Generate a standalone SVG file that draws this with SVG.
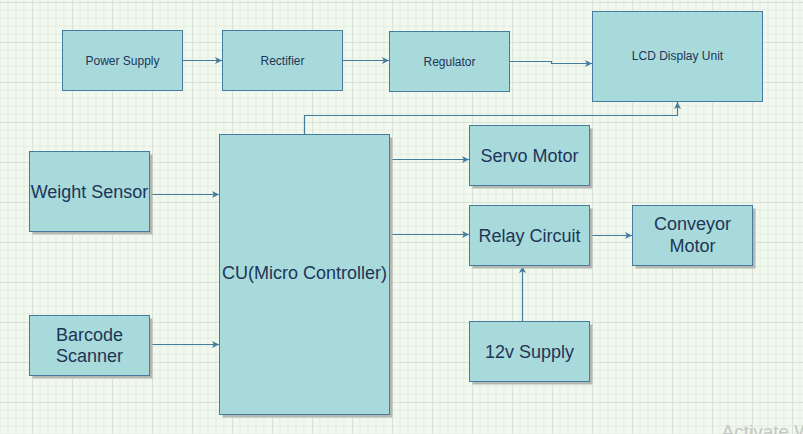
<svg xmlns="http://www.w3.org/2000/svg" width="803" height="434" viewBox="0 0 803 434">
<style>
.box{fill:#a8dadc;stroke:#457b9d;stroke-width:1}
.shadow{fill:#b4b8b1}
.t12{font-family:"Liberation Sans",Arial,sans-serif;font-size:12px;fill:#1d3557;text-anchor:middle}
.t18{font-family:"Liberation Sans",Arial,sans-serif;font-size:18px;fill:#1d3557;text-anchor:middle}
.edge{fill:none;stroke:#457b9d;stroke-width:1.2}
</style>
<defs>
<pattern id="grid" patternUnits="userSpaceOnUse" x="32" y="2" width="40" height="40">
<path d="M8,0V40M16,0V40M24,0V40M32,0V40M0,8H40M0,16H40M0,24H40M0,32H40" stroke="#e5ede1" stroke-width="1" fill="none"/>
<path d="M0.5,0V40M0,0.5H40" stroke="#d9e0d6" stroke-width="1" fill="none"/>
</pattern>
<marker id="arr" markerUnits="userSpaceOnUse" markerWidth="9" markerHeight="9" refX="7" refY="4" orient="auto">
<path d="M0,0.5 L7,4 L0,7.5 L1.8,4 z" fill="#457b9d"/>
</marker>
</defs>
<rect width="803" height="434" fill="#f1f8ee"/>
<rect width="803" height="434" fill="url(#grid)"/>

<g id="connectors">
<path class="edge" d="M182.5,60.5H222" marker-end="url(#arr)"/>
<path class="edge" d="M342.5,60.5H389" marker-end="url(#arr)"/>
<path class="edge" d="M509.5,61.5H551.5V63.5H592" marker-end="url(#arr)"/>
<path class="edge" d="M304.5,134.5V115.5H677.5V102" marker-end="url(#arr)"/>
<path class="edge" d="M149.5,194.5H219" marker-end="url(#arr)"/>
<path class="edge" d="M149.5,344.5H219" marker-end="url(#arr)"/>
<path class="edge" d="M389.5,159.5H469" marker-end="url(#arr)"/>
<path class="edge" d="M389.5,234.5H469" marker-end="url(#arr)"/>
<path class="edge" d="M589.5,235.5H632" marker-end="url(#arr)"/>
<path class="edge" d="M522.5,321.5V266" marker-end="url(#arr)"/>
</g>

<g id="power-supply">
<rect class="box" x="62.5" y="30.5" width="120" height="60"/>
<text class="t12" x="122.5" y="64.7">Power Supply</text>
</g>
<g id="rectifier">
<rect class="box" x="222.5" y="30.5" width="120" height="60"/>
<text class="t12" x="282.5" y="64.7">Rectifier</text>
</g>
<g id="regulator">
<rect class="box" x="389.5" y="31.5" width="120" height="60"/>
<text class="t12" x="449.5" y="65.7">Regulator</text>
</g>
<g id="lcd-display">
<rect class="box" x="592.5" y="11.5" width="170" height="90"/>
<text class="t12" x="677.5" y="60">LCD Display Unit</text>
</g>
<g id="weight-sensor">
<rect class="shadow" x="32.5" y="154.5" width="120" height="80"/>
<rect class="box" x="29.5" y="151.5" width="120" height="80"/>
<text class="t18" x="89.5" y="197.5">Weight Sensor</text>
</g>
<g id="barcode-scanner">
<rect class="shadow" x="32.5" y="318.5" width="120" height="60"/>
<rect class="box" x="29.5" y="315.5" width="120" height="60"/>
<text class="t18" x="89.5" y="340.5">Barcode</text>
<text class="t18" x="89.5" y="362">Scanner</text>
</g>
<g id="cu">
<rect class="shadow" x="222.5" y="137.5" width="170" height="280"/>
<rect class="box" x="219.5" y="134.5" width="170" height="280"/>
<text class="t18" x="304.5" y="278.5">CU(Micro Controller)</text>
</g>
<g id="servo-motor">
<rect class="shadow" x="472.5" y="128.5" width="120" height="60"/>
<rect class="box" x="469.5" y="125.5" width="120" height="60"/>
<text class="t18" x="529.5" y="161.5">Servo Motor</text>
</g>
<g id="relay-circuit">
<rect class="shadow" x="472.5" y="208.5" width="120" height="60"/>
<rect class="box" x="469.5" y="205.5" width="120" height="60"/>
<text class="t18" x="529.5" y="241.5">Relay Circuit</text>
</g>
<g id="conveyor-motor">
<rect class="shadow" x="635.5" y="208.5" width="120" height="60"/>
<rect class="box" x="632.5" y="205.5" width="120" height="60"/>
<text class="t18" x="692.5" y="230.3">Conveyor</text>
<text class="t18" x="692.5" y="252">Motor</text>
</g>
<g id="supply-12v">
<rect class="shadow" x="472.5" y="324.5" width="120" height="60"/>
<rect class="box" x="469.5" y="321.5" width="120" height="60"/>
<text class="t18" x="529.5" y="357.8">12v Supply</text>
</g>
<text x="721.5" y="438" font-family="'Liberation Sans',Arial,sans-serif" font-size="19px" fill="#c4c8c2">Activate W</text>
</svg>
